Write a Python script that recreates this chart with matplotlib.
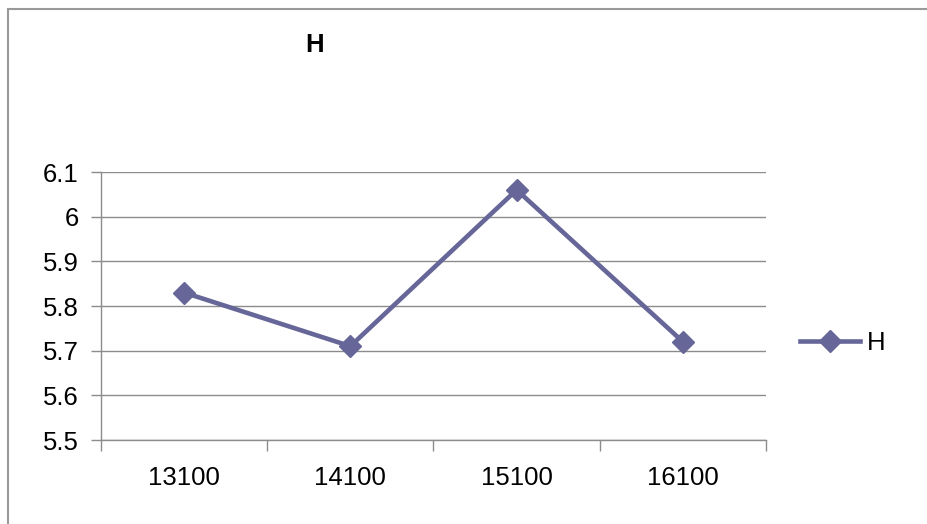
import numpy as np
import matplotlib
matplotlib.use("Agg")
import matplotlib.pyplot as plt
from matplotlib.patches import Rectangle

plt.rcParams['font.family'] = ['Liberation Sans', 'DejaVu Sans']

# data
categories = ["13100", "14100", "15100", "16100"]
h_values = [5.83, 5.71, 6.06, 5.72]
y_ticks = [5.5, 5.6, 5.7, 5.8, 5.9, 6.0, 6.1]
y_labels = ["5.5", "5.6", "5.7", "5.8", "5.9", "6", "6.1"]

line_col = "#666699"
grid_col = "#8c8c8c"
fs = 18.5

fig = plt.figure(figsize=(9.28, 5.24), dpi=100)
# outer chart frame (runs off the right and bottom edges)
fig.patches.append(Rectangle((7.5/928, -0.05), 1.0, 1 - 8.5/524 + 0.05,
                             transform=fig.transFigure, fill=False,
                             edgecolor="#999999", linewidth=1.5))

ax = fig.add_axes([101/928, 1 - 440/524, 665/928, 268/524])
x = np.arange(len(categories))
ax.plot(x, h_values, color=line_col, linewidth=3.3, marker="D",
        markersize=11, label="H")

ax.set_xlim(-0.5, len(categories) - 0.5)
ax.set_ylim(5.5, 6.1)
ax.set_yticks(y_ticks)
ax.set_yticklabels(y_labels)
ax.set_xticks(x)
ax.set_xticklabels(categories)
ax.set_xticks(np.arange(len(categories) + 1) - 0.5, minor=True)
ax.tick_params(axis="x", which="major", length=0, pad=19, labelsize=fs)
ax.tick_params(axis="x", which="minor", length=8, color=grid_col, width=1)
ax.tick_params(axis="y", length=7, color=grid_col, width=1, pad=9, labelsize=fs)

ax.yaxis.grid(True, color=grid_col, linewidth=1)
ax.set_axisbelow(True)
for s in ["top", "right"]:
    ax.spines[s].set_visible(False)
for s in ["left", "bottom"]:
    ax.spines[s].set_color(grid_col)
    ax.spines[s].set_linewidth(1)

fig.text(315/928, 1 - 45/524, "H", fontsize=fs, fontweight="bold",
         ha="center", va="center")

leg = ax.legend(loc="center left", bbox_to_anchor=(800/928, 1 - 343/524),
                bbox_transform=fig.transFigure, frameon=False, fontsize=fs,
                handlelength=2.35, handletextpad=0.25, borderpad=0,
                borderaxespad=0)

fig.savefig("out.png", dpi=100)
